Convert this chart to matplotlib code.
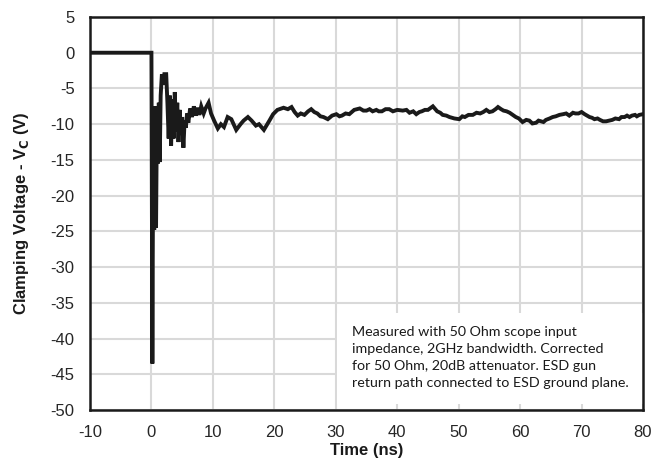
import matplotlib
matplotlib.use("Agg")
import matplotlib.pyplot as plt
from matplotlib.patches import Rectangle

# Time (ns) and clamping voltage (V)
time_ns = [-10, -5, -0.05, 0.0, 0.15, 0.3, 0.45, 0.6, 0.75, 0.9, 1.05, 1.2, 1.35, 1.5, 1.7,
           1.9, 2.1, 2.4, 2.6, 2.8, 3.0, 3.2, 3.4, 3.6, 3.8, 4.0, 4.2, 4.4, 4.6, 4.8, 5.0,
           5.2, 5.4, 5.6, 5.8, 6.0, 6.3, 6.6, 6.9, 7.2, 7.5, 7.8, 8.1, 8.5, 8.8, 9.3, 9.7,
           10.2, 10.8, 11.3, 11.8, 12.4, 13.0, 13.8, 14.5, 15.0, 15.7, 16.3, 17.0, 17.5,
           18.3, 19.2, 19.8, 20.5, 21.5, 22.2, 22.8, 23.3, 23.8, 24.3, 24.9, 25.5, 26.0,
           26.5, 27.0, 27.5, 28.0, 28.7, 29.4, 30.1, 30.6, 31.0, 31.6, 32.2, 33.0, 33.9,
           34.5, 35.0, 35.5, 36.0, 36.6, 37.0, 37.5, 38.1, 38.7, 39.3, 40.0, 40.9, 41.5,
           42.0, 42.6, 43.1, 43.6, 44.0, 44.5, 45.0, 45.8, 46.5, 47.0, 47.4, 48.0, 48.5,
           49.3, 50.1, 50.6, 51.0, 51.6, 52.3, 52.9, 53.5, 54.0, 54.5, 55.0, 55.5, 56.0,
           56.4, 56.9, 57.3, 57.8, 58.3, 58.8, 59.3, 59.8, 60.4, 61.0, 61.5, 62.0, 62.6,
           63.0, 63.4, 63.8, 64.2, 64.8, 65.3, 65.8, 66.4, 67.0, 67.5, 68.0, 68.6, 69.0,
           69.5, 70.0, 70.5, 70.9, 71.3, 71.7, 72.1, 72.6, 73.0, 73.5, 74.0, 74.5, 75.0,
           75.5, 76.1, 76.5, 77.0, 77.4, 77.8, 78.2, 78.7, 79.0, 79.4, 80.0]
voltage_v = [0, 0, 0, 0, -43.5, -8.5, -24.8, -7.5, -24.5, -8.0, -15.5, -7.0, -15.3, -6.0, -3.0,
             -4.5, -3.0, -3.0, -7.0, -12.0, -6.0, -13.0, -6.5, -12.0, -5.5, -11.0, -7.0, -12.5, -8.0, -11.5, -9.0,
             -13.3, -9.5, -10.5, -8.5, -9.8, -7.8, -9.0, -7.5, -8.8, -7.7, -8.7, -7.5, -8.5, -7.8, -7.0, -8.5,
             -9.5, -10.6, -10.0, -10.4, -9.0, -9.3, -10.8, -10.0, -9.5, -9.0, -9.5, -10.2, -10.0,
             -10.8, -9.5, -8.6, -8.0, -7.7, -7.9, -7.6, -8.3, -8.8, -8.5, -8.7, -8.2, -7.9,
             -8.3, -8.5, -8.9, -9.0, -9.3, -8.8, -8.6, -8.9, -8.8, -8.5, -8.6, -8.0, -7.8,
             -8.1, -8.1, -7.9, -8.2, -8.0, -8.2, -8.2, -7.9, -7.9, -8.2, -8.0, -8.1, -8.0,
             -8.4, -8.2, -8.6, -8.3, -8.2, -8.0, -8.0, -7.5, -8.2, -8.4, -8.7, -8.8, -9.0,
             -9.2, -9.3, -8.9, -9.0, -8.7, -8.7, -8.4, -8.5, -8.3, -8.0, -8.3, -8.2, -7.9,
             -7.6, -7.9, -8.1, -8.2, -8.4, -8.7, -9.0, -9.2, -9.7, -9.4, -9.5, -9.9, -9.8,
             -9.5, -9.6, -9.7, -9.4, -9.2, -9.0, -8.9, -8.7, -8.6, -8.5, -8.8, -8.4, -8.5,
             -8.5, -8.3, -8.6, -8.8, -9.0, -9.1, -9.3, -9.2, -9.4, -9.6, -9.6, -9.5, -9.4,
             -9.2, -9.3, -9.0, -9.0, -8.8, -9.0, -8.8, -8.7, -8.9, -8.7, -8.6]

x_ticks = list(range(-10, 81, 10))
y_ticks = list(range(-50, 6, 5))
note = ("Measured with 50 Ohm scope input\n"
        "impedance, 2GHz bandwidth. Corrected\n"
        "for 50 Ohm, 20dB attenuator. ESD gun\n"
        "return path connected to ESD ground plane.")

plt.rcParams['font.family'] = ['Liberation Sans', 'DejaVu Sans']
plt.rcParams['axes.unicode_minus'] = False

fig = plt.figure(figsize=(6.63, 4.65), dpi=100)
ax = fig.add_axes([90/663, 1-410/465, (643-90)/663, (410-17)/465])

ax.plot(time_ns, voltage_v, color='#1a1a1a', lw=2.8, solid_joinstyle='miter', zorder=3)

ax.set_xlim(-10, 80)
ax.set_ylim(-50, 5)
ax.set_xticks(x_ticks)
ax.set_yticks(y_ticks)
ax.grid(True, color='#d9d9d9', lw=1.5, zorder=0)
ax.set_axisbelow(True)
ax.tick_params(length=0, labelsize=12, colors='#262626')
ax.tick_params(axis='x', pad=11)
ax.tick_params(axis='y', pad=11)
for s in ax.spines.values():
    s.set_linewidth(1.8)
    s.set_color('#1a1a1a')
    s.set_zorder(5)

ax.set_xlabel('Time (ns)', fontsize=12, fontweight='bold', labelpad=2, color='#1a1a1a')
ax.set_ylabel('Clamping Voltage - V$_\\mathbf{C}$ (V)', fontsize=12, fontweight='bold',
              labelpad=14, color='#1a1a1a')

ax.add_patch(Rectangle((0.4467, 0.015), 0.5533, 0.232, transform=ax.transAxes,
                       facecolor='white', edgecolor='none', zorder=1.5))
ax.text((352-90)/553, 0.1336, note, transform=ax.transAxes, fontsize=10.25,
        family=['Lato', 'DejaVu Sans'], va='center', ha='left', linespacing=1.5,
        color='#1a1a1a', zorder=4)

fig.savefig('out.png', dpi=100)
